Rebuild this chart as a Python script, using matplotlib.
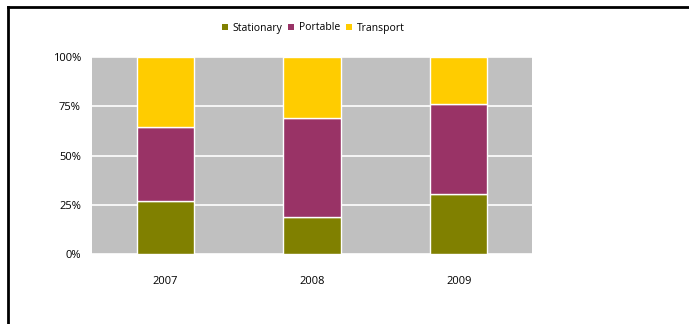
import matplotlib
matplotlib.use("Agg")
import matplotlib.pyplot as plt
from matplotlib.lines import Line2D
from matplotlib.patches import Patch
import numpy as np

years = ["2007", "2008", "2009"]
stationary = [0.27, 0.19, 0.305]
portable = [0.373, 0.502, 0.456]
transport = [0.357, 0.308, 0.239]
series_names = ["Stationary", "Portable", "Transport"]
colors = ["#808000", "#993366", "#FFCC00"]
ytick_labels = ["0%", "25%", "50%", "75%", "100%"]

plt.rcParams["font.family"] = ["Open Sans", "DejaVu Sans"]

fig = plt.figure(figsize=(6.89, 3.24), dpi=100)
ax = fig.add_axes([92 / 689, 70 / 324, 440 / 689, 197 / 324])
ax.set_facecolor("#C0C0C0")

x = np.arange(len(years))
bottom = np.zeros(len(years))
for vals, c in zip([stationary, portable, transport], colors):
    ax.bar(x, vals, width=0.39, bottom=bottom, color=c, edgecolor="white",
           linewidth=1.0, zorder=3)
    bottom += np.array(vals)

ax.set_xlim(-0.5, len(years) - 0.5)
ax.set_ylim(0, 1)
ax.set_yticks([0, 0.25, 0.5, 0.75, 1.0])
ax.set_yticklabels(ytick_labels)
ax.set_xticks(x)
ax.set_xticklabels(years)
ax.tick_params(axis="both", length=0, labelsize=8, colors="#000000")
ax.tick_params(axis="x", pad=16)
ax.tick_params(axis="y", pad=8)
ax.yaxis.grid(True, color="white", linewidth=1.2, zorder=1)
ax.set_axisbelow(True)
for s in ax.spines.values():
    s.set_visible(False)

handles = [Patch(facecolor=c, edgecolor="none") for c in colors]
fig.legend(handles, series_names, loc="center", bbox_to_anchor=(313 / 689, 1 - 28 / 324),
           ncol=3, frameon=False, fontsize=7.5, handlelength=0.6, handleheight=0.6,
           handletextpad=0.4, columnspacing=0.6)

# frame lines along top and left edges
fig.add_artist(Line2D([8 / 689, 1], [1 - 7 / 324, 1 - 7 / 324], color="black", linewidth=2))
fig.add_artist(Line2D([8 / 689, 8 / 689], [0, 1 - 7 / 324], color="black", linewidth=2))

fig.savefig("out.png", dpi=100)
